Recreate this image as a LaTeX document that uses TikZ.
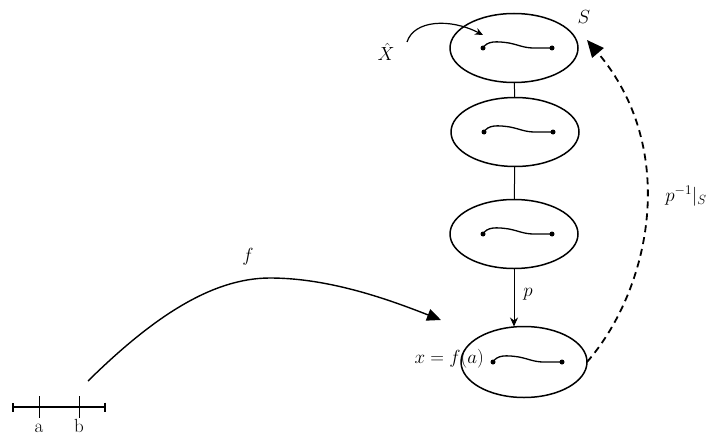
\RequirePackage{fix-cm}
\documentclass[tikz,border=0pt]{standalone}
\usepackage{amsmath}
\usetikzlibrary{shapes.geometric, arrows.meta, calc}

\begin{document}
\begin{tikzpicture}[
  x=1pt, y=-1pt,
  fibre/.style={ellipse, draw, line width=1.5pt, minimum width=128pt, minimum height=69pt, inner sep=0pt, outer sep=0pt},
  wiggle/.style={line width=1.3pt},
  dot/.style={circle, fill, inner sep=0pt, minimum size=5pt},
  lbl/.style={font=\fontsize{19}{21}\selectfont},
  arrow/.style={-{Triangle[length=14pt, width=12pt]}, line width=1.4pt},
  lift/.style={-{Triangle[length=17pt, width=15pt]}, line width=1.8pt, dash pattern=on 7pt off 5pt},
  link/.style={line width=1pt}
]
  \useasboundingbox (0,0) rectangle (711,436);

  % the fibres
  \node[fibre] (s1) at (514,48) {};
  \node[fibre] (s2) at (515,132) {};
  \node[fibre] (s3) at (514,234) {};
  \node[fibre, minimum width=126pt, minimum height=71pt] (s4) at (524,362) {};

  \foreach \s in {s1,s2,s3,s4} {
    \draw[wiggle] ($(\s)+(-31,0)$) .. controls ($(\s)+(-27,-7)$) and ($(\s)+(-18,-7)$) .. ($(\s)+(-5,-5)$)
      .. controls ($(\s)+(5,-3)$) and ($(\s)+(10,0)$) .. ($(\s)+(20,0)$) -- ($(\s)+(38,0)$);
    \node[dot] (\s l) at ($(\s)+(-31,0)$) {};
    \node[dot] (\s r) at ($(\s)+(38,0)$) {};
  }

  \draw[link] (s1) -- (s2);
  \draw[link] (s2) -- (s3);
  \draw[link, -{Stealth[length=9pt, width=8pt]}] (s3.south) -- (s3.south |- s4.north);
  \node[lbl] (p) at (528,294) {$p$};

  % labels
  \node[lbl] (xhat) at (386,52) {$\hat{X}$};
  \node[lbl] (slbl) at (584,17) {$S$};
  \node[lbl, anchor=east, inner sep=1pt] (xfa) at (485,359) {$x = f(a)$};
  \node[lbl] (pinv) at (686,196) {$p^{-1}|_S$};
  \node[lbl] (flbl) at (248,257) {$f$};

  \coordinate (xin) at (483,35);
  \draw[line width=1.2pt, -{Stealth[length=8pt, width=7pt]}] (407,42) .. controls (414,20) and (450,18) .. (xin);

  % the lift back up
  \coordinate (stip) at (587,40);
  \draw[lift] (s4.east) .. controls (650,290) and (680,150) .. (stip);

  % the interval and the map f
  \coordinate (ia) at (12,407);
  \coordinate (ib) at (106,407);
  \draw[line width=1.7pt, {Bar[width=9pt]}-{Bar[width=9pt]}] (ia) -- (ib);
  \foreach \x/\t in {39/a, 79/b} {
    \draw[line width=0.6pt] (\x,396) -- (\x,418);
    \node[lbl, anchor=base, inner sep=0pt] (l\t) at (\x,432) {\t};
  }

  \coordinate (fstart) at (88,381);
  \coordinate (ftip) at (441,320);
  \draw[arrow] (fstart) .. controls (150,320) and (210,278) .. (270,278)
    .. controls (330,278) and (390,300) .. (ftip);
\end{tikzpicture}
\end{document}
